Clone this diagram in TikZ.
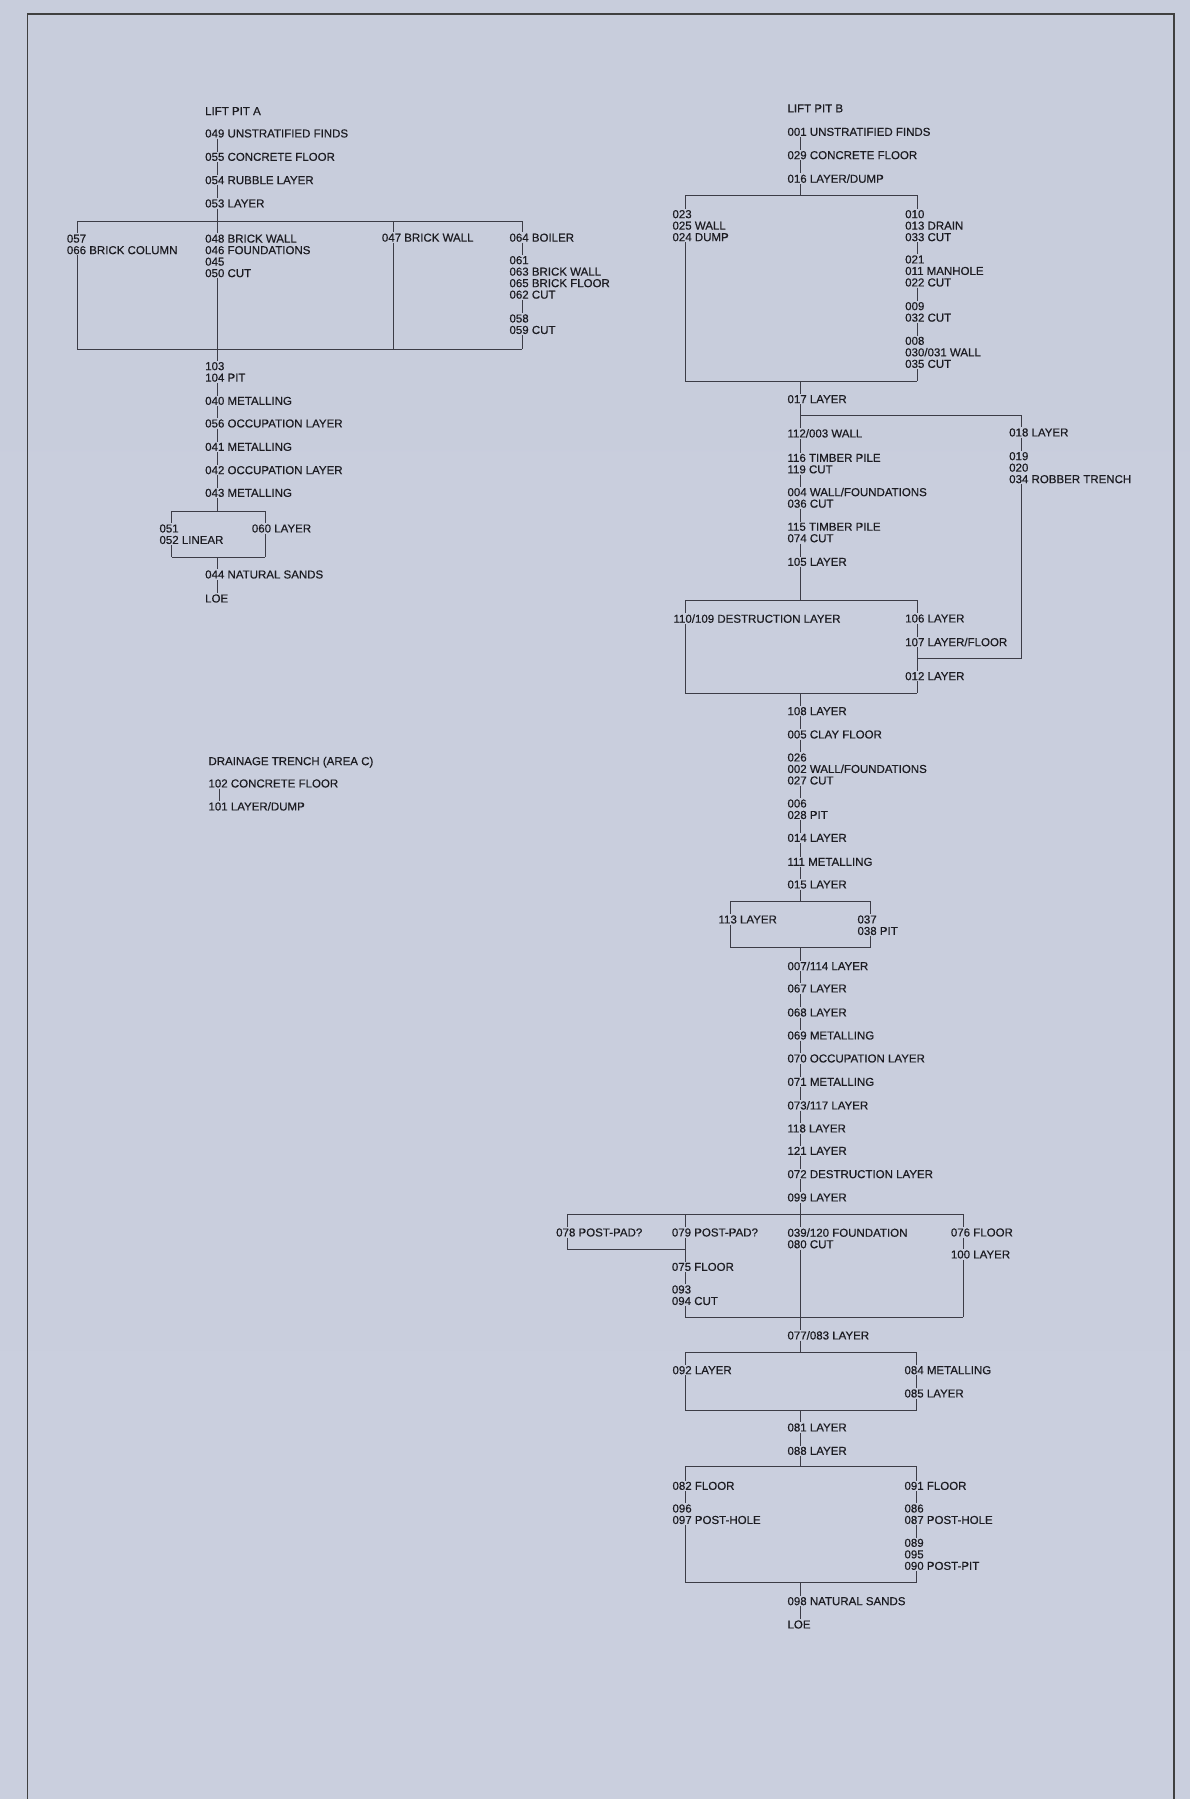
\documentclass[tikz,border=0pt]{standalone}
\usepackage{fontspec}
\setmainfont{Liberation Sans}
\newfontfamily\labf[FakeBold=0.5]{Liberation Sans}
\definecolor{bgtop}{RGB}{200,205,220}
\definecolor{bgmid}{RGB}{216,220,232}
\definecolor{bgbot}{RGB}{202,207,222}
\definecolor{inkc}{RGB}{28,28,34}
\definecolor{linec}{RGB}{60,60,70}
\tikzset{
  lab/.style={anchor=north west, inner sep=1pt, align=left, xshift=-1pt, yshift=5.1pt,
    text=inkc, font=\labf\fontsize{11.5}{11.5}\selectfont},
  ln/.style={draw=linec, line width=0.9pt},
  frm/.style={draw=black!75, line width=1.3pt}
}
\newcommand\lab[4]{\node[lab] (#1) at (#2,#3) {#4};}
\newcommand\vl[3]{\draw[ln] (#1.south -| #3) -- (#2.north -| #3);}
\begin{document}
\begin{tikzpicture}[x=1pt,y=-1pt]
\useasboundingbox (0,0) rectangle (1190,1799);
\shade[top color=bgtop, middle color=bgmid, bottom color=bgbot] (0,0) rectangle (1190,1799);
% frame
\draw[frm] (27.3,1799) -- (27.3,13.7) -- (1174,13.7) -- (1174,1799);
\draw[draw=black!75, line width=2pt] (27.3,13.7) -- (1174,13.7);

% column coordinates
\coordinate (xA) at (217,0);
\coordinate (xB) at (800,0);
\coordinate (xD) at (219.5,0);

% ===== LIFT PIT A =====
\lab{nLPA}{205}{111}{LIFT PIT A}
\lab{n049}{205}{133.3}{049 UNSTRATIFIED FINDS}
\lab{n055}{205}{156.7}{055 CONCRETE FLOOR}
\lab{n054}{205}{180}{054 RUBBLE LAYER}
\lab{n053}{205}{203.3}{053 LAYER}
\lab{n048}{205}{238.5}{048 BRICK WALL\\046 FOUNDATIONS\\045\\050 CUT}
\lab{n057}{66.7}{238.5}{057\\066 BRICK COLUMN}
\lab{n047}{381.7}{237.5}{047 BRICK WALL}
\lab{n064}{509.3}{237.5}{064 BOILER}
\lab{n061}{509.3}{260}{061\\063 BRICK WALL\\065 BRICK FLOOR\\062 CUT}
\lab{n058}{509.3}{318.3}{058\\059 CUT}
\lab{n103}{205}{366}{103\\104 PIT}
\lab{n040}{205}{400.7}{040 METALLING}
\lab{n056}{205}{423.3}{056 OCCUPATION LAYER}
\lab{n041}{205}{446.7}{041 METALLING}
\lab{n042}{205}{470}{042 OCCUPATION LAYER}
\lab{n043}{205}{492.7}{043 METALLING}
\lab{n051}{159.3}{528.3}{051\\052 LINEAR}
\lab{n060}{251.7}{528.3}{060 LAYER}
\lab{n044}{205}{574.3}{044 NATURAL SANDS}
\lab{nLOEa}{205}{598.3}{LOE}

\coordinate (Atl) at (77.3,221);
\coordinate (Atr) at (522.3,221);
\coordinate (Abl) at (77.3,349);
\coordinate (Abr) at (522.3,349);
\coordinate (Amt) at (393.3,221);
\coordinate (Amb) at (393.3,349);
\vl{n049}{n055}{xA}
\vl{n055}{n054}{xA}
\vl{n054}{n053}{xA}
\vl{n053}{n048}{xA}
\vl{n048}{n103}{xA}
\draw[ln] (Atl) -- (Atr);
\draw[ln] (Abl) -- (Abr);
\draw[ln] (Atl) -- (n057.north -| Atl);
\draw[ln] (n057.south -| Atl) -- (Abl);
\draw[ln] (Amt) -- (n047.north -| Amt);
\draw[ln] (n047.south -| Amt) -- (Amb);
\draw[ln] (Atr) -- (n064.north -| Atr);
\vl{n064}{n061}{Atr}
\vl{n061}{n058}{Atr}
\draw[ln] (n058.south -| Atr) -- (Abr);

\coordinate (Btl) at (171.7,511);
\coordinate (Btr) at (265,511);
\coordinate (Bbl) at (171.7,557.3);
\coordinate (Bbr) at (265,557.3);
\coordinate (Btm) at (217,511);
\coordinate (Bbm) at (217,557.3);
\vl{n103}{n040}{xA}
\vl{n040}{n056}{xA}
\vl{n056}{n041}{xA}
\vl{n041}{n042}{xA}
\vl{n042}{n043}{xA}
\draw[ln] (n043.south -| xA) -- (Btm);
\draw[ln] (Btl) -- (Btr);
\draw[ln] (Bbl) -- (Bbr);
\draw[ln] (Btl) -- (n051.north -| Btl);
\draw[ln] (n051.south -| Btl) -- (Bbl);
\draw[ln] (Btr) -- (n060.north -| Btr);
\draw[ln] (n060.south -| Btr) -- (Bbr);
\draw[ln] (Bbm) -- (n044.north -| xA);
\vl{n044}{nLOEa}{xA}

% ===== DRAINAGE TRENCH =====
\lab{nDT}{208.3}{760.7}{DRAINAGE TRENCH (AREA C)}
\lab{n102}{208.3}{783.3}{102 CONCRETE FLOOR}
\lab{n101}{208.3}{806}{101 LAYER/DUMP}
\vl{n102}{n101}{xD}

% ===== LIFT PIT B =====
\lab{nLPB}{787.3}{108.3}{LIFT PIT B}
\lab{n001}{787.3}{131.7}{001 UNSTRATIFIED FINDS}
\lab{n029}{787.3}{155}{029 CONCRETE FLOOR}
\lab{n016}{787.3}{178.3}{016 LAYER/DUMP}
\lab{n023}{672.3}{214}{023\\025 WALL\\024 DUMP}
\lab{n010}{905}{214}{010\\013 DRAIN\\033 CUT}
\lab{n021}{905}{259.3}{021\\011 MANHOLE\\022 CUT}
\lab{n009}{905}{306}{009\\032 CUT}
\lab{n008}{905}{340.7}{008\\030/031 WALL\\035 CUT}
\lab{n017}{787.3}{399}{017 LAYER}
\lab{n112}{787.3}{433}{112/003 WALL}
\lab{n116}{787.3}{457.7}{116 TIMBER PILE\\119 CUT}
\lab{n004}{787.3}{491.7}{004 WALL/FOUNDATIONS\\036 CUT}
\lab{n115}{787.3}{526.7}{115 TIMBER PILE\\074 CUT}
\lab{n105}{787.3}{561.7}{105 LAYER}
\lab{n018}{1009}{432.3}{018 LAYER}
\lab{n019}{1009}{456}{019\\020\\034 ROBBER TRENCH}
\lab{n110}{673.3}{618.3}{110/109 DESTRUCTION LAYER}
\lab{n106}{905}{618.3}{106 LAYER}
\lab{n107}{905}{641.7}{107 LAYER/FLOOR}
\lab{n012}{905}{676}{012 LAYER}
\lab{n108}{787.3}{711}{108 LAYER}
\lab{n005}{787.3}{734.3}{005 CLAY FLOOR}
\lab{n026}{787.3}{757.3}{026\\002 WALL/FOUNDATIONS\\027 CUT}
\lab{n006}{787.3}{803.3}{006\\028 PIT}
\lab{n014}{787.3}{837.7}{014 LAYER}
\lab{n111}{787.3}{861.7}{111 METALLING}
\lab{n015}{787.3}{884.3}{015 LAYER}
\lab{n113}{718.3}{919.3}{113 LAYER}
\lab{n037}{857.3}{919.3}{037\\038 PIT}
\lab{n007}{787.3}{965.7}{007/114 LAYER}
\lab{n067}{787.3}{988.3}{067 LAYER}
\lab{n068}{787.3}{1012.3}{068 LAYER}
\lab{n069}{787.3}{1035.3}{069 METALLING}
\lab{n070}{787.3}{1058.3}{070 OCCUPATION LAYER}
\lab{n071}{787.3}{1081.7}{071 METALLING}
\lab{n073}{787.3}{1105}{073/117 LAYER}
\lab{n118}{787.3}{1128.3}{118 LAYER}
\lab{n121}{787.3}{1150.7}{121 LAYER}
\lab{n072}{787.3}{1174}{072 DESTRUCTION LAYER}
\lab{n099}{787.3}{1197.3}{099 LAYER}
\lab{n078}{556}{1232.3}{078 POST-PAD?}
\lab{n079}{671.7}{1232.3}{079 POST-PAD?}
\lab{n075}{671.7}{1266.7}{075 FLOOR}
\lab{n093}{671.7}{1289.3}{093\\094 CUT}
\lab{n039}{787.3}{1232.3}{039/120 FOUNDATION\\080 CUT}
\lab{n076}{950.7}{1232.3}{076 FLOOR}
\lab{n100}{950.7}{1254.3}{100 LAYER}
\lab{n077}{787.3}{1335}{077/083 LAYER}
\lab{n092}{672.3}{1370}{092 LAYER}
\lab{n084}{904.3}{1370}{084 METALLING}
\lab{n085}{904.3}{1393.3}{085 LAYER}
\lab{n081}{787.3}{1427.3}{081 LAYER}
\lab{n088}{787.3}{1450.7}{088 LAYER}
\lab{n082}{672.3}{1485.7}{082 FLOOR}
\lab{n096}{672.3}{1508.3}{096\\097 POST-HOLE}
\lab{n091}{904.3}{1485.7}{091 FLOOR}
\lab{n086}{904.3}{1508.3}{086\\087 POST-HOLE}
\lab{n089}{904.3}{1542.7}{089\\095\\090 POST-PIT}
\lab{n098}{787.3}{1601}{098 NATURAL SANDS}
\lab{nLOEb}{787.3}{1624.3}{LOE}

% top chain
\vl{n001}{n029}{xB}
\vl{n029}{n016}{xB}
% box C
\coordinate (Ctl) at (685,195.3);
\coordinate (Ctr) at (917.3,195.3);
\coordinate (Cbl) at (685,381);
\coordinate (Cbr) at (917.3,381);
\coordinate (Ctm) at (800,195.3);
\coordinate (Cbm) at (800,381);
\draw[ln] (n016.south -| xB) -- (Ctm);
\draw[ln] (Ctl) -- (Ctr);
\draw[ln] (Cbl) -- (Cbr);
\draw[ln] (Ctl) -- (n023.north -| Ctl);
\draw[ln] (n023.south -| Ctl) -- (Cbl);
\draw[ln] (Ctr) -- (n010.north -| Ctr);
\vl{n010}{n021}{Ctr}
\vl{n021}{n009}{Ctr}
\vl{n009}{n008}{Ctr}
\draw[ln] (n008.south -| Ctr) -- (Cbr);
\draw[ln] (Cbm) -- (n017.north -| xB);
% branch to 018
\coordinate (R1) at (800,415);
\coordinate (R2) at (1021.7,415);
\coordinate (R3) at (1021.7,658.3);
\coordinate (R4) at (917.3,658.3);
\vl{n017}{n112}{xB}
\draw[ln] (R1) -- (R2) -- (n018.north -| R2);
\vl{n018}{n019}{R2}
\draw[ln] (n019.south -| R2) -- (R3) -- (R4);
\vl{n112}{n116}{xB}
\vl{n116}{n004}{xB}
\vl{n004}{n115}{xB}
\vl{n115}{n105}{xB}
% box D
\coordinate (Dtl) at (685,600);
\coordinate (Dtr) at (917.3,600);
\coordinate (Dbl) at (685,693.3);
\coordinate (Dbr) at (917.3,693.3);
\coordinate (Dtm) at (800,600);
\coordinate (Dbm) at (800,693.3);
\draw[ln] (n105.south -| xB) -- (Dtm);
\draw[ln] (Dtl) -- (Dtr);
\draw[ln] (Dbl) -- (Dbr);
\draw[ln] (Dtl) -- (n110.north -| Dtl);
\draw[ln] (n110.south -| Dtl) -- (Dbl);
\draw[ln] (Dtr) -- (n106.north -| Dtr);
\vl{n106}{n107}{Dtr}
\vl{n107}{n012}{Dtr}
\draw[ln] (n012.south -| Dtr) -- (Dbr);
\draw[ln] (Dbm) -- (n108.north -| xB);
\vl{n108}{n005}{xB}
\vl{n005}{n026}{xB}
\vl{n026}{n006}{xB}
\vl{n006}{n014}{xB}
\vl{n014}{n111}{xB}
\vl{n111}{n015}{xB}
% box E
\coordinate (Etl) at (730,901);
\coordinate (Etr) at (870.7,901);
\coordinate (Ebl) at (730,947.3);
\coordinate (Ebr) at (870.7,947.3);
\coordinate (Etm) at (800,901);
\coordinate (Ebm) at (800,947.3);
\draw[ln] (n015.south -| xB) -- (Etm);
\draw[ln] (Etl) -- (Etr);
\draw[ln] (Ebl) -- (Ebr);
\draw[ln] (Etl) -- (n113.north -| Etl);
\draw[ln] (n113.south -| Etl) -- (Ebl);
\draw[ln] (Etr) -- (n037.north -| Etr);
\draw[ln] (n037.south -| Etr) -- (Ebr);
\draw[ln] (Ebm) -- (n007.north -| xB);
\vl{n007}{n067}{xB}
\vl{n067}{n068}{xB}
\vl{n068}{n069}{xB}
\vl{n069}{n070}{xB}
\vl{n070}{n071}{xB}
\vl{n071}{n073}{xB}
\vl{n073}{n118}{xB}
\vl{n118}{n121}{xB}
\vl{n121}{n072}{xB}
\vl{n072}{n099}{xB}
% box F
\coordinate (Ftl) at (567.3,1214);
\coordinate (Ftr) at (963.3,1214);
\coordinate (F2t) at (685,1214);
\coordinate (Fpl) at (567.3,1249);
\coordinate (Fpr) at (685,1249);
\coordinate (Fbl) at (685,1317.3);
\coordinate (Fbr) at (963.3,1317.3);
\vl{n099}{n039}{xB}
\draw[ln] (Ftl) -- (Ftr);
\draw[ln] (Ftl) -- (n078.north -| Ftl);
\draw[ln] (n078.south -| Ftl) -- (Fpl) -- (Fpr);
\draw[ln] (F2t) -- (n079.north -| F2t);
\vl{n079}{n075}{F2t}
\vl{n075}{n093}{F2t}
\draw[ln] (n093.south -| F2t) -- (Fbl) -- (Fbr);
\draw[ln] (Ftr) -- (n076.north -| Ftr);
\vl{n076}{n100}{Ftr}
\draw[ln] (n100.south -| Ftr) -- (Fbr);
\vl{n039}{n077}{xB}
% box G
\coordinate (Gtl) at (685,1352.7);
\coordinate (Gtr) at (916.7,1352.7);
\coordinate (Gbl) at (685,1410);
\coordinate (Gbr) at (916.7,1410);
\coordinate (Gtm) at (800,1352.7);
\coordinate (Gbm) at (800,1410);
\draw[ln] (n077.south -| xB) -- (Gtm);
\draw[ln] (Gtl) -- (Gtr);
\draw[ln] (Gbl) -- (Gbr);
\draw[ln] (Gtl) -- (n092.north -| Gtl);
\draw[ln] (n092.south -| Gtl) -- (Gbl);
\draw[ln] (Gtr) -- (n084.north -| Gtr);
\vl{n084}{n085}{Gtr}
\draw[ln] (n085.south -| Gtr) -- (Gbr);
\draw[ln] (Gbm) -- (n081.north -| xB);
\vl{n081}{n088}{xB}
% box H
\coordinate (Htl) at (685,1466.7);
\coordinate (Htr) at (916.7,1466.7);
\coordinate (Hbl) at (685,1582.7);
\coordinate (Hbr) at (916.7,1582.7);
\coordinate (Htm) at (800,1466.7);
\coordinate (Hbm) at (800,1582.7);
\draw[ln] (n088.south -| xB) -- (Htm);
\draw[ln] (Htl) -- (Htr);
\draw[ln] (Hbl) -- (Hbr);
\draw[ln] (Htl) -- (n082.north -| Htl);
\vl{n082}{n096}{Htl}
\draw[ln] (n096.south -| Htl) -- (Hbl);
\draw[ln] (Htr) -- (n091.north -| Htr);
\vl{n091}{n086}{Htr}
\vl{n086}{n089}{Htr}
\draw[ln] (n089.south -| Htr) -- (Hbr);
\draw[ln] (Hbm) -- (n098.north -| xB);
\vl{n098}{nLOEb}{xB}
\end{tikzpicture}
\end{document}
